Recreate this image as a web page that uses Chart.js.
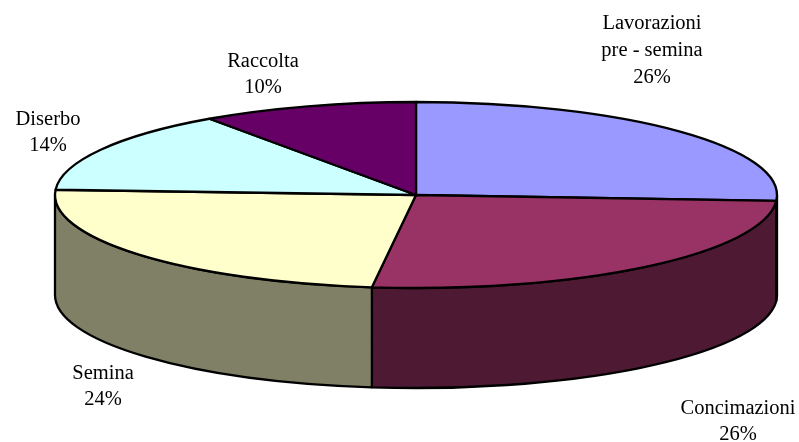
<!DOCTYPE html>
<html>
<head>
<meta charset="utf-8">
<style>html,body{margin:0;padding:0;background:#fff}canvas{display:block}</style>
<script src="https://cdn.jsdelivr.net/npm/chart.js@4"></script>
</head>
<body>
<canvas id="c" width="799" height="442"></canvas>
<script>
const categories = [["Lavorazioni","pre - semina"],["Concimazioni"],["Semina"],["Diserbo"],["Raccolta"]];
const values = [26,25.95,23.95,14.4,9.7];
const topColors = ["#9999FF","#993366","#FFFFCC","#CCFFFF","#660066"];
const wallColors = ["#4D4D80","#4D1933","#808066","#668080","#330033"];
const labelCentersX = [652,738,103,48,263];
const labelBaselinesY = [29,413.5,378.5,124.5,66.5];
const lineGap = 26.8;
const ellipse = {cx:416, cy:195, rx:361, ry:93, depth:100, line:2.3};

const pie3d = {
  id:'pie3d',
  beforeDatasetDraw(chart){
    const ctx = chart.ctx, arcs = chart.getDatasetMeta(0).data, E = ellipse;
    const base = ctx.getTransform();
    arcs.forEach((arc,i)=>{
      const a = Math.max(arc.startAngle,0), b = Math.min(arc.endAngle,Math.PI);
      if(b<=a) return;
      ctx.save();
      ctx.beginPath();
      ctx.ellipse(E.cx,E.cy,E.rx,E.ry,0,a,b);
      ctx.ellipse(E.cx,E.cy+E.depth,E.rx,E.ry,0,b,a,true);
      ctx.closePath();
      ctx.fillStyle = wallColors[i];
      ctx.fill();
      ctx.lineWidth = E.line; ctx.strokeStyle='#000'; ctx.lineJoin='round';
      ctx.stroke();
      ctx.restore();
    });
    const first = arcs[0], r = first.outerRadius;
    const nativeStroke = ctx.stroke;
    ctx.stroke = function(){
      ctx.save(); ctx.setTransform(base); nativeStroke.call(ctx); ctx.restore();
    };
    ctx.save();
    ctx.translate(E.cx,E.cy);
    ctx.scale(E.rx/r,E.ry/r);
    ctx.translate(-first.x,-first.y);
    arcs.forEach(arc=>arc.draw(ctx,chart.chartArea));
    ctx.restore();
    delete ctx.stroke;
    return false;
  },
  afterDatasetsDraw(chart){
    const ctx = chart.ctx;
    ctx.save();
    ctx.font = '20.5px "Liberation Serif"';
    ctx.fillStyle = '#000';
    ctx.textAlign = 'center';
    ctx.textBaseline = 'alphabetic';
    categories.forEach((lines,i)=>{
      const all = lines.concat(Math.round(values[i])+'%');
      all.forEach((t,j)=>ctx.fillText(t,labelCentersX[i],labelBaselinesY[i]+j*lineGap));
    });
    ctx.restore();
  }
};

new Chart(document.getElementById('c'),{
  type:'pie',
  data:{labels:categories,datasets:[{data:values,backgroundColor:topColors,borderColor:'#000',borderWidth:2.3,borderJoinStyle:'round',hoverOffset:0}]},
  options:{
    responsive:false,animation:false,
    layout:{padding:0},
    plugins:{legend:{display:false},tooltip:{enabled:false},title:{display:false}}
  },
  plugins:[pie3d]
});
</script>
</body>
</html>
